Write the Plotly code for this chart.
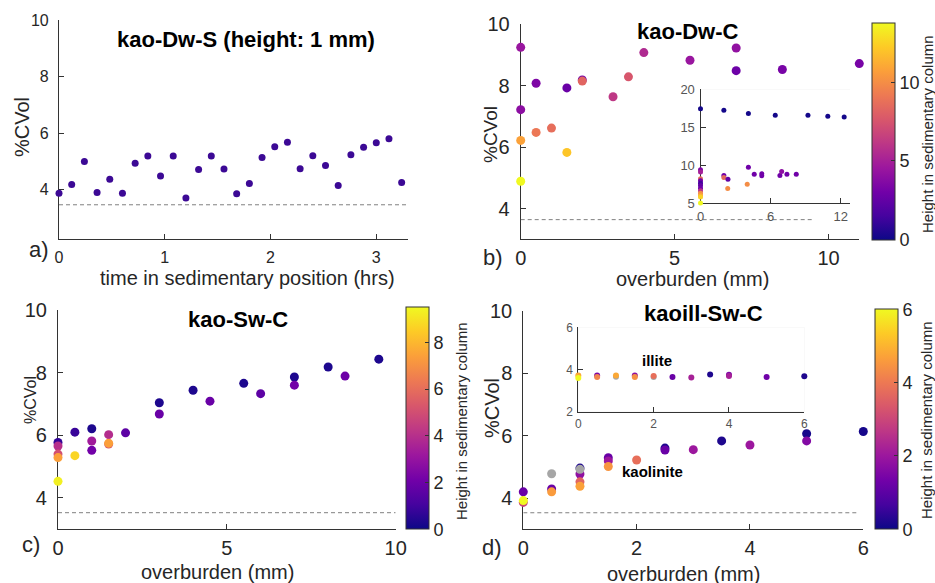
import plotly.graph_objects as go

W, H = 935, 583
FONT = "Liberation Sans, Arial, Helvetica, sans-serif"
AX = "#333333"
TXT = "#262626"

# ---------------- data ----------------
# a) kao-Dw-S
a_time = [0, 0.12, 0.24, 0.36, 0.48, 0.60, 0.72, 0.84, 0.96, 1.08, 1.20, 1.32, 1.44, 1.56,
          1.68, 1.80, 1.92, 2.04, 2.16, 2.28, 2.40, 2.52, 2.64, 2.76, 2.88, 3.00, 3.12, 3.24]
a_cvol = [3.88, 4.19, 5.00, 3.90, 4.37, 3.88, 4.94, 5.19, 4.49, 5.19, 3.71, 4.72, 5.19, 4.73,
          3.86, 4.22, 5.14, 5.52, 5.68, 4.74, 5.20, 4.86, 4.15, 5.24, 5.50, 5.66, 5.80, 4.26]

# b) kao-Dw-C
b_over = [0, 0, 0, 0, 0.5, 0.5, 1.0, 1.5, 1.5, 2.0, 2.0, 3.0, 3.5, 4.0, 5.5, 7.0, 7.0, 8.5, 11.0]
b_cvol = [9.25, 7.22, 6.22, 4.89, 8.08, 6.48, 6.62, 7.93, 5.83, 8.19, 8.15, 7.64, 8.29, 9.08,
          8.83, 9.23, 8.49, 8.53, 8.72]
b_height = [4.5, 4.0, 10.8, 13.8, 3.5, 9.1, 8.7, 2.8, 12.1, 3.0, 8.3, 6.2, 7.6, 5.5,
            4.5, 4.2, 2.9, 3.3, 3.3]

# b) inset
bi_over = [0, 2.0, 4.1, 6.4, 9.2, 10.9, 12.3,
           0, 0, 0, 0, 0, 0, 0, 0, 0, 0, 0, 0,
           2.0, 2.0, 2.35, 2.33, 4.1, 4.0, 4.6, 5.25, 5.25, 6.8, 6.95, 7.4, 8.2]
bi_cvol = [17.42, 17.24, 16.81, 16.59, 16.59, 16.46, 16.33,
           9.4, 9.1, 8.2, 7.95, 7.6, 7.3, 6.95, 6.6, 6.3, 6.0, 5.8, 5.0,
           8.62, 8.36, 8.12, 6.92, 9.72, 7.49, 8.8, 8.85, 8.6, 8.62, 9.16, 8.79, 8.79]
bi_height = [0.2, 0.2, 0.2, 0.2, 0.2, 0.2, 0.2,
             3.5, 5.0, 8.5, 3.0, 1.5, 2.5, 3.0, 6.0, 10.0, 11.0, 12.5, 13.8,
             3.0, 8.5, 2.5, 10.0, 3.0, 10.0, 3.0, 3.0, 3.0, 3.0, 4.0, 3.0, 3.0]

# c) kao-Sw-C
c_over = [0, 0, 0, 0, 0, 0.5, 0.5, 1, 1, 1, 1.5, 1.5, 1.5, 2, 3, 3, 4, 4.5, 5.5, 6, 7, 7, 8, 8.5, 9.5]
c_cvol = [5.77, 5.66, 5.40, 5.29, 4.53, 6.10, 5.35, 6.21, 5.82, 5.52, 6.02, 5.72, 5.75, 6.08,
          7.04, 6.68, 7.44, 7.09, 7.66, 7.33, 7.86, 7.60, 8.18, 7.89, 8.43]
c_height = [0.7, 4.0, 5.0, 7.4, 9.3, 0.8, 8.7, 0.3, 3.3, 2.1, 3.9, 5.3, 7.4, 1.6,
            0.3, 1.9, 0.3, 1.9, 0.3, 1.6, 0.3, 2.1, 0.3, 2.0, 0.3]

# d) kaoill-Sw-C (kaolinite)
d_over = [0, 0, 0, 0.5, 0.5, 1.0, 1.0, 1.0, 1.0, 1.5, 1.5, 1.5, 2.0, 2.5, 2.5, 3.0, 3.5, 4.0,
          5.0, 5.0, 6.0]
d_cvol = [4.20, 3.86, 3.92, 4.29, 4.20, 4.96, 4.77, 4.52, 4.38, 5.29, 5.19, 5.01, 5.22, 5.60,
          5.54, 5.55, 5.83, 5.70, 6.06, 5.83, 6.13]
d_height = [1.2, 3.0, 6.0, 1.2, 4.6, 0.2, 1.8, 3.6, 4.7, 1.2, 2.0, 4.5, 3.8, 0.2, 1.2, 2.0,
            0.2, 2.0, 0.1, 1.6, 0.1]
d_gray_over = [0.5, 1.0]
d_gray_cvol = [4.78, 4.92]

# d) inset (illite)
di_gray_over = [1.0, 2.0]
di_gray_cvol = [3.66, 3.64]
di_over = [0, 0, 0.5, 0.5, 1.0, 1.5, 1.5, 2.0, 2.5, 3.0, 3.5, 4.0, 4.0, 5.0, 6.0]
di_cvol = [3.71, 3.60, 3.71, 3.65, 3.72, 3.71, 3.65, 3.69, 3.65, 3.62, 3.76, 3.75, 3.69, 3.65, 3.68]
di_height = [4.8, 6.0, 1.5, 4.2, 4.8, 1.8, 4.4, 3.8, 1.2, 2.2, 0.2, 1.5, 2.2, 1.3, 0.2]

# threshold (dashed) lines: x extent and level
thr_a_x, thr_a_y = [0, 3.3], [3.47, 3.47]
thr_b_x, thr_b_y = [0, 9.5], [3.64, 3.64]
thr_c_x, thr_c_y = [0, 10], [3.53, 3.53]
thr_d_x, thr_d_y = [0, 5.9], [3.53, 3.53]

# ---------------- helpers ----------------
def px(x):
    return x / W

def py(y):
    return 1 - y / H

fig = go.Figure()

def dash_line(x, y, xa, ya):
    fig.add_trace(go.Scatter(x=x, y=y, mode="lines", xaxis=xa, yaxis=ya,
                             line=dict(color="#808080", width=1, dash="4px,3px"),
                             hoverinfo="skip", showlegend=False))

# threshold lines
dash_line(thr_a_x, thr_a_y, "x", "y")
dash_line(thr_b_x, thr_b_y, "x2", "y2")
dash_line(thr_c_x, thr_c_y, "x3", "y3")
dash_line(thr_d_x, thr_d_y, "x4", "y4")

# a
fig.add_trace(go.Scatter(x=a_time, y=a_cvol, mode="markers", xaxis="x", yaxis="y",
                         marker=dict(size=7, color="#3c0995"), cliponaxis=False, showlegend=False))
# b
fig.add_trace(go.Scatter(x=b_over, y=b_cvol, mode="markers", xaxis="x2", yaxis="y2",
                         marker=dict(size=9, color=b_height, coloraxis="coloraxis"),
                         cliponaxis=False, showlegend=False))
fig.add_trace(go.Scatter(x=bi_over, y=bi_cvol, mode="markers", xaxis="x5", yaxis="y5",
                         marker=dict(size=5, color=bi_height, coloraxis="coloraxis"),
                         cliponaxis=False, showlegend=False))
# c
fig.add_trace(go.Scatter(x=c_over, y=c_cvol, mode="markers", xaxis="x3", yaxis="y3",
                         marker=dict(size=9, color=c_height, coloraxis="coloraxis2"),
                         cliponaxis=False, showlegend=False))
# d
fig.add_trace(go.Scatter(x=d_over, y=d_cvol, mode="markers", xaxis="x4", yaxis="y4",
                         marker=dict(size=9, color=d_height, coloraxis="coloraxis3"),
                         cliponaxis=False, showlegend=False))
fig.add_trace(go.Scatter(x=d_gray_over, y=d_gray_cvol, mode="markers", xaxis="x4", yaxis="y4",
                         marker=dict(size=9, color="#a6a6a6"), cliponaxis=False, showlegend=False))
fig.add_trace(go.Scatter(x=di_gray_over, y=di_gray_cvol, mode="markers", xaxis="x6", yaxis="y6",
                         marker=dict(size=6, color="#a6a6a6"), cliponaxis=False, showlegend=False))
fig.add_trace(go.Scatter(x=di_over, y=di_cvol, mode="markers", xaxis="x6", yaxis="y6",
                         marker=dict(size=6, color=di_height, coloraxis="coloraxis3"),
                         cliponaxis=False, showlegend=False))

def axis(domain, rng, tickvals, size, anchor, color=TXT, lw=1.1, standoff=3):
    return dict(domain=domain, range=rng, tickvals=tickvals, anchor=anchor,
                showline=True, linecolor=AX, linewidth=lw, ticks="inside", ticklen=5,
                tickcolor=AX, showgrid=False, zeroline=False, layer="below traces",
                ticklabelstandoff=standoff, automargin=False,
                tickfont=dict(size=size, color=color, family=FONT), fixedrange=True)

def cbar(x0, ytop, ybot, cmax, tickvals):
    return dict(colorscale="Plasma", cmin=0, cmax=cmax,
                colorbar=dict(x=px(x0), xanchor="left", xpad=0, ypad=0,
                              y=py((ytop + ybot) / 2), yanchor="middle",
                              len=(ybot - ytop) / H, lenmode="fraction",
                              thickness=23, thicknessmode="pixels",
                              outlinewidth=1, outlinecolor=AX,
                              tickvals=tickvals, ticks="inside", ticklen=4, tickcolor=AX,
                              tickfont=dict(size=18, color=TXT, family=FONT),
                              title=dict(text="")))

layout = dict(
    width=W, height=H, margin=dict(l=0, r=0, t=0, b=0, autoexpand=False),
    paper_bgcolor="white", plot_bgcolor="white",
    font=dict(family=FONT, color=TXT),
    showlegend=False,
    xaxis=axis([px(59), px(408)], [0, 3.3], [0, 1, 2, 3], 16, "y"),
    yaxis=axis([py(239.3), py(20)], [2.25, 10], [4, 6, 8, 10], 16, "x", standoff=6),
    xaxis2=axis([px(520.7), px(859.3)], [0, 11], [0, 5, 10], 20, "y2", standoff=1),
    yaxis2=axis([py(239.3), py(24.3)], [3, 10], [4, 6, 8, 10], 20, "x2", standoff=6),
    xaxis3=axis([px(58), px(395.7)], [0, 10], [0, 5, 10], 20, "y3", standoff=1),
    yaxis3=axis([py(529.3), py(310)], [3, 10], [4, 6, 8, 10], 20, "x3", standoff=6),
    xaxis4=axis([px(523.3), px(863.3)], [0, 6], [0, 2, 4, 6], 20, "y4", standoff=1),
    yaxis4=axis([py(529.3), py(310.7)], [3, 10], [4, 6, 8, 10], 20, "x4", standoff=6),
    xaxis5=axis([px(700.5), px(850)], [0, 12.8], [0, 6, 12], 13, "y5", color="#555555", standoff=1),
    yaxis5=axis([py(203), py(89.3)], [5, 20], [5, 10, 15, 20], 13, "x5", color="#555555", standoff=2),
    xaxis6=axis([px(578.3), px(804.3)], [0, 6], [0, 2, 4, 6], 12, "y6", color="#555555", standoff=1),
    yaxis6=axis([py(411.7), py(327.3)], [2, 6], [2, 4, 6], 12, "x6", color="#555555", standoff=2),
    coloraxis=cbar(871.7, 22.7, 239.3, 13.8, [0, 5, 10]),
    coloraxis2=cbar(406, 307.3, 529.3, 9.5, [0, 2, 4, 6, 8]),
    coloraxis3=cbar(875, 309.3, 529.3, 6, [0, 2, 4, 6]),
)
fig.update_layout(**layout)

# inset backgrounds
for xa, ya in (("x5", "y5"), ("x6", "y6")):
    fig.add_shape(type="rect", xref=f"{xa} domain", yref=f"{ya} domain",
                  x0=0, x1=1, y0=0, y1=1, fillcolor="#e5e5e5", line=dict(width=0),
                  layer="below")

def note(text, x, y, size, angle=0, color=TXT):
    fig.add_annotation(text=text, x=px(x), y=py(y), xref="paper", yref="paper",
                       xanchor="center", yanchor="middle", showarrow=False,
                       textangle=angle, font=dict(size=size, color=color, family=FONT))

# titles
note("<b>kao-Dw-S (height: 1 mm)</b>", 246, 40, 22, color="black")
note("<b>kao-Dw-C</b>", 688, 32, 22, color="black")
note("<b>kao-Sw-C</b>", 238, 319, 22, color="black")
note("<b>kaoill-Sw-C</b>", 703, 313, 22, color="black")
note("<b>illite</b>", 657, 360, 15, color="black")
note("<b>kaolinite</b>", 652, 471, 15, color="black")

# axis titles
note("time in sedimentary position (hrs)", 247, 278, 20)
note("overburden (mm)", 692, 279, 20)
note("overburden (mm)", 217, 572, 20)
note("overburden (mm)", 683, 574, 20)
note("%CVol", 22, 127, 20, angle=-90)
note("%CVol", 490, 135, 19, angle=-90)
note("%CVol", 30, 400, 16, angle=-90)
note("%CVol", 492, 408, 20, angle=-90)

# panel letters
note("a)", 39, 249, 22)
note("b)", 493, 257, 22)
note("c)", 31, 544, 22)
note("d)", 492, 547, 22)

# colorbar titles
cbt = "Height in sedimentary column"
note(cbt, 927, 134, 15, angle=-90)
note(cbt, 461, 421, 15, angle=-90)
note(cbt, 926, 420, 15, angle=-90)

fig.write_html("out.html",
               config={"displayModeBar": False},
               post_script="document.body.style.margin='0';document.body.style.padding='0';")
